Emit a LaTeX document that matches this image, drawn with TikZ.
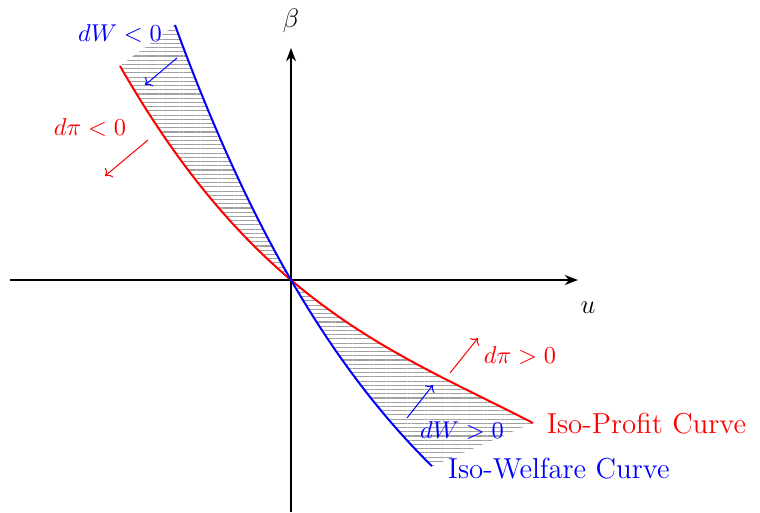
\documentclass[tikz,border=0pt]{standalone}
\usetikzlibrary{arrows.meta,patterns.meta}
\begin{document}
\begin{tikzpicture}[x=0.45pt,y=-0.45pt,
  axis/.style={line width=0.7pt,-{Stealth[length=6pt,width=4.5pt]}},
  profit/.style={red,line width=0.9pt},
  welfare/.style={blue,line width=0.9pt},
  dirarrow/.style={line width=0.45pt,->},
  lbl/.style={inner sep=1pt,font=\fontsize{10.8}{13}\selectfont},
  curvelbl/.style={anchor=west,font=\fontsize{13}{15}\selectfont}]
\useasboundingbox (0,0) rectangle (760,512);
\coordinate (O) at (291,280);
\coordinate (xs) at (10,280);
\coordinate (xe) at (578,280);
\coordinate (ys) at (291,512);
\coordinate (ye) at (291,48);
% hatched region
\fill[pattern={Lines[angle=0,distance=1.9pt,line width=0.5pt]},pattern color=gray!75]
  plot[domain=-1.71:2.42,samples=80] ({291+100*\x},{280-(-84.86*\x+18.215*\x*\x-3.128*\x*\x*\x)})
  -- plot[domain=1.41:-1.16,samples=80] ({291+100*\x},{280-432*(exp(-0.4*\x)-1)}) -- cycle;
% axes
\draw[axis] (xs) -- (xe);
\draw[axis] (ys) -- (ye);
\node[font=\fontsize{13}{15}\selectfont] (beta) at (291,21) {$\beta$};
\node[font=\fontsize{13}{15}\selectfont] (u) at (588,308) {$u$};
% curves
\draw[profit] plot[domain=-1.71:2.42,samples=80] ({291+100*\x},{280-(-84.86*\x+18.215*\x*\x-3.128*\x*\x*\x)});
\draw[welfare] plot[domain=-1.16:1.41,samples=80] ({291+100*\x},{280-432*(exp(-0.4*\x)-1)});
% curve labels
\node[red,curvelbl] (isoP) at (539,424) {Iso-Profit Curve};
\node[blue,curvelbl] (isoW) at (440,469) {Iso-Welfare Curve};
% direction arrows
\coordinate (a1s) at (148,140); \coordinate (a1e) at (105,176);
\coordinate (a2s) at (177,58);  \coordinate (a2e) at (145,85);
\coordinate (a3s) at (450,373); \coordinate (a3e) at (478,338);
\coordinate (a4s) at (407,418); \coordinate (a4e) at (433,385);
\draw[dirarrow,red] (a1s) -- (a1e);
\draw[dirarrow,blue] (a2s) -- (a2e);
\draw[dirarrow,red] (a3s) -- (a3e);
\draw[dirarrow,blue] (a4s) -- (a4e);
% direction labels
\node[lbl,red] (dpn) at (90,128) {$d\pi<0$};
\node[lbl,blue] (dwn) at (120,34) {$dW<0$};
\node[lbl,red] (dpp) at (520,356) {$d\pi>0$};
\node[lbl,blue] (dwp) at (462,431) {$dW>0$};
\end{tikzpicture}
\end{document}
